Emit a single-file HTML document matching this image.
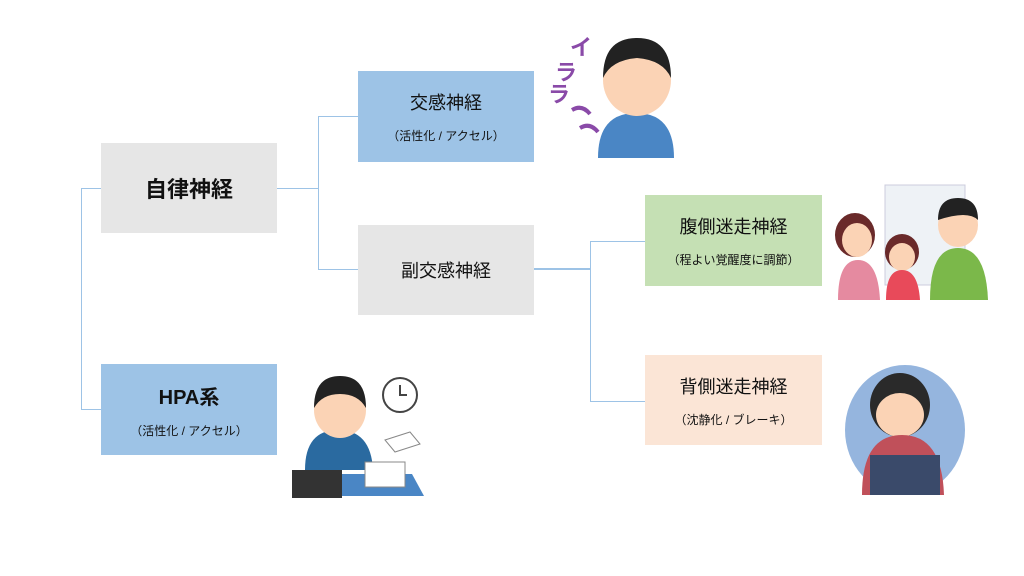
<!DOCTYPE html>
<html><head><meta charset="utf-8"><style>
body{margin:0;width:1024px;height:576px;background:#fff;position:relative;overflow:hidden;font-family:"Liberation Sans","Noto Sans CJK JP",sans-serif;color:#111}
.b{position:absolute;display:flex;flex-direction:column;align-items:center;justify-content:center;box-sizing:border-box}
.t{font-size:18px}.s{font-size:12px;margin-top:12px}
.gray{background:#e6e6e6}.blue{background:#9dc3e6}.green{background:#c5e0b4}.peach{background:#fbe5d6}
.l{position:absolute;background:#9dc3e6}
</style></head><body>
<div class="l" style="left:81px;top:188px;width:1px;height:222px"></div>
<div class="l" style="left:81px;top:188px;width:20px;height:1px"></div>
<div class="l" style="left:81px;top:409px;width:20px;height:1px"></div>
<div class="l" style="left:277px;top:188px;width:41px;height:1px"></div>
<div class="l" style="left:318px;top:116px;width:1px;height:154px"></div>
<div class="l" style="left:318px;top:116px;width:40px;height:1px"></div>
<div class="l" style="left:318px;top:269px;width:40px;height:1px"></div>
<div class="l" style="left:534px;top:268px;width:56px;height:2px"></div>
<div class="l" style="left:590px;top:241px;width:1px;height:161px"></div>
<div class="l" style="left:590px;top:241px;width:55px;height:1px"></div>
<div class="l" style="left:590px;top:401px;width:55px;height:1px"></div>

<div class="b gray" style="left:101px;top:143px;width:176px;height:90px"><div style="font-size:22px;font-weight:bold">自律神経</div></div>
<div class="b blue" style="left:358px;top:71px;width:176px;height:91px"><div class="t">交感神経</div><div class="s">（活性化 / アクセル）</div></div>
<div class="b gray" style="left:358px;top:225px;width:176px;height:90px"><div class="t">副交感神経</div></div>
<div class="b blue" style="left:101px;top:364px;width:176px;height:91px"><div style="font-size:20px;font-weight:bold">HPA系</div><div class="s">（活性化 / アクセル）</div></div>
<div class="b green" style="left:645px;top:195px;width:177px;height:91px"><div class="t">腹側迷走神経</div><div class="s">（程よい覚醒度に調節）</div></div>
<div class="b peach" style="left:645px;top:355px;width:177px;height:90px"><div class="t">背側迷走神経</div><div class="s">（沈静化 / ブレーキ）</div></div>

<svg width="1024" height="576" style="position:absolute;left:0;top:0">
<!-- angry man -->
<text x="570" y="55" font-size="22" fill="#8a4aa8" font-weight="bold" font-family="Liberation Sans,Noto Sans CJK JP,sans-serif">イ</text>
<text x="555" y="80" font-size="22" fill="#8a4aa8" font-weight="bold" font-family="Liberation Sans,Noto Sans CJK JP,sans-serif">ラ</text>
<text x="548" y="102" font-size="22" fill="#8a4aa8" font-weight="bold" font-family="Liberation Sans,Noto Sans CJK JP,sans-serif">ラ</text>
<path d="M572 110 q10 -6 18 4 M580 128 q10 -6 18 4" stroke="#8a4aa8" stroke-width="4" fill="none"/>
<path d="M598 158 q0 -45 38 -45 q38 0 38 45z" fill="#4a86c5"/>
<ellipse cx="637" cy="80" rx="34" ry="36" fill="#fbd3b5"/>
<path d="M603 78 q0 -40 34 -40 q34 0 34 40 q-8 -18 -34 -20 q-26 2 -34 20z" fill="#222"/>
<!-- family -->
<rect x="885" y="185" width="80" height="100" fill="#eef2f6" stroke="#ccd" />
<ellipse cx="855" cy="235" rx="20" ry="22" fill="#6a2a2a"/>
<ellipse cx="857" cy="240" rx="15" ry="17" fill="#fbd3b5"/>
<path d="M838 300 q0 -40 20 -40 q20 0 22 40z" fill="#e58aa0"/>
<ellipse cx="902" cy="252" rx="17" ry="18" fill="#6a2a2a"/>
<ellipse cx="902" cy="257" rx="13" ry="14" fill="#fbd3b5"/>
<path d="M886 300 q0 -30 16 -30 q16 0 18 30z" fill="#e84a5a"/>
<ellipse cx="958" cy="225" rx="20" ry="22" fill="#fbd3b5"/>
<path d="M938 220 q0 -22 20 -22 q20 0 20 22 q-10 -10 -40 0z" fill="#222"/>
<path d="M930 300 q0 -52 28 -52 q28 0 30 52z" fill="#7bb84a"/>
<!-- sad girl -->
<ellipse cx="905" cy="430" rx="60" ry="65" fill="#7aa3d6" opacity="0.8"/>
<ellipse cx="900" cy="405" rx="30" ry="32" fill="#2a2a2a"/>
<ellipse cx="900" cy="415" rx="24" ry="22" fill="#fbd3b5"/>
<path d="M862 495 q0 -60 40 -60 q40 0 42 60z" fill="#c0505a"/>
<path d="M870 455 h70 v40 h-70z" fill="#3a4a6a"/>
<!-- busy man -->
<path d="M292 496 l12 -22 h108 l12 22z" fill="#4a86c5"/>
<rect x="292" y="470" width="50" height="28" fill="#333"/>
<path d="M305 470 q0 -40 33 -40 q33 0 35 40z" fill="#2a6aa0"/>
<ellipse cx="340" cy="410" rx="26" ry="28" fill="#fbd3b5"/>
<path d="M314 408 q0 -32 26 -32 q26 0 26 32 q-8 -14 -26 -14 q-18 0 -26 14z" fill="#222"/>
<circle cx="400" cy="395" r="17" fill="#fff" stroke="#444" stroke-width="2"/>
<path d="M400 385 v10 h7" stroke="#444" stroke-width="2" fill="none"/>
<path d="M385 440 l25 -8 l10 12 l-25 8z M365 462 h40 v25 h-40z" fill="#fff" stroke="#888"/>
</svg>
</body></html>
